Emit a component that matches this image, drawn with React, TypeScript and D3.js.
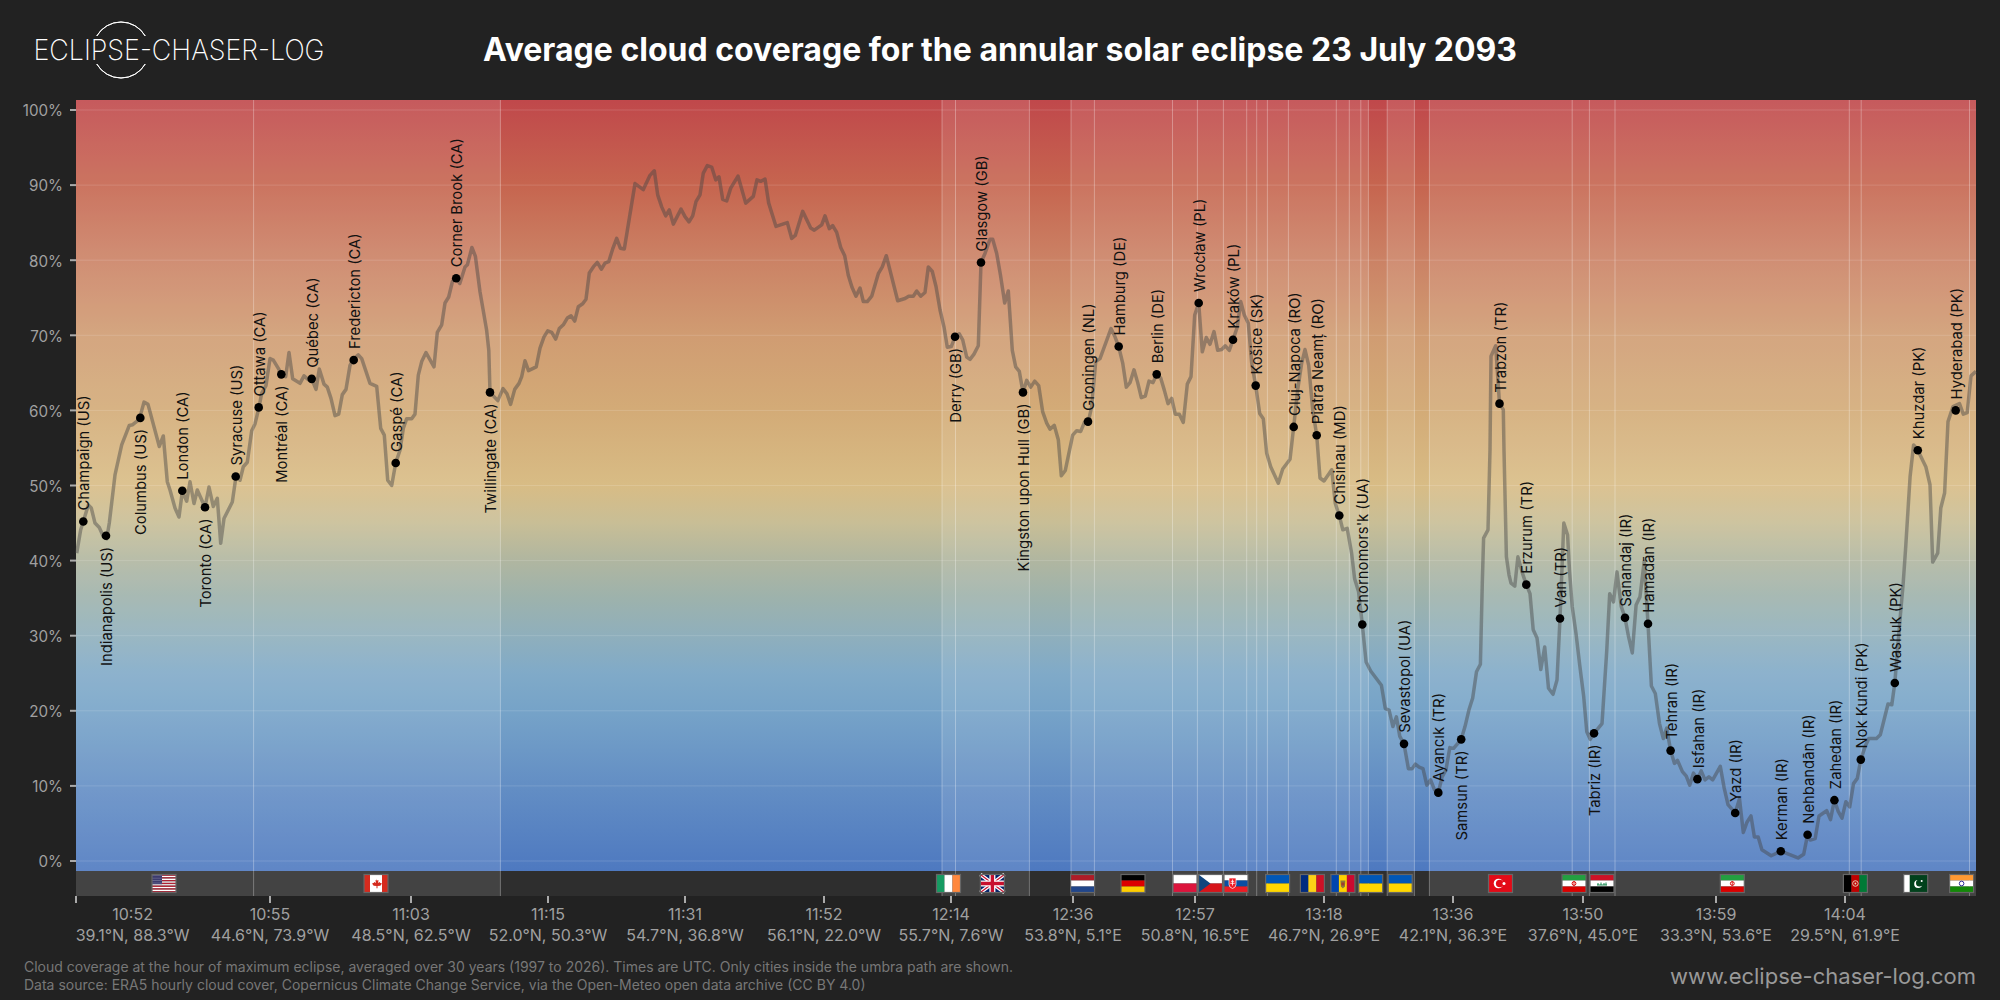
import * as d3 from "d3"

// Track position is a running index along the umbra path, [position, average cloud %]
const trackNorthAmerica = [
  [0.7, 41.0], [4.7, 44.1], [7.3, 45.2], [12.3, 47.4], [15.3, 47.0], [19, 45.0], [23.3, 44.4], [27.3, 43.2], [30.7, 42.9], [33.3, 45.0],
  [39, 51.4], [45.7, 55.4], [53.3, 58.0], [56.7, 58.1], [63.3, 58.8], [68, 61.1], [72, 60.8], [83.3, 55.2], [87.3, 56.6], [91.3, 50.5],
  [94, 49.4], [99, 47.0], [103, 45.8], [106.3, 49.2], [110.7, 47.9], [114, 50.5], [118, 47.6], [121.3, 49.4], [129, 47.1], [133, 49.8],
  [137.3, 47.2], [141.3, 48.3], [144.7, 42.3], [148, 45.6], [156.3, 47.8], [160, 51.2], [164, 50.7], [167.3, 52.5], [171.3, 53.1], [175.7, 57.3],
  [179, 58.2], [183, 60.4], [185.7, 62.3], [190, 63.3], [194, 66.9], [197.3, 66.7], [202.3, 65.6], [205.7, 64.8], [209.7, 64.5], [213, 67.7],
  [216.7, 64.2], [224, 63.6], [228, 64.6], [232.3, 64.1], [235.7, 64.2], [240, 62.8], [243.3, 65.5], [248, 63.5], [251.3, 63.1], [255, 61.6],
  [259, 59.3], [262.7, 59.5], [266.3, 62.1], [270, 62.8], [274, 66.0], [277.3, 66.8], [282.3, 67.4], [285.7, 66.9], [294, 63.6], [300.7, 63.2],
  [304.7, 57.6], [308.3, 56.7], [311.7, 50.7], [315.7, 50.0], [319.7, 53.0], [324, 54.7], [327.3, 57.6], [330.7, 58.9], [335.7, 58.9], [339, 59.5],
  [342.3, 64.7], [345.7, 66.5], [350, 67.7], [358, 65.8], [361.3, 70.4], [365.7, 71.4], [369, 74.3], [372.7, 75.1], [376.5, 77.2], [380.2, 77.6], [383.8, 76.9],
  [389, 79.1], [391.4, 79.4], [395.9, 81.7], [399.4, 80.5], [404, 75.8], [410.6, 70.7], [412.8, 68.0], [414, 62.4],
]

const trackAtlantic = [
  [421.8, 61.3], [427, 62.9], [431, 62.2], [434.6, 60.8], [438.7, 62.8], [443, 63.6], [445.7, 64.5], [449, 66.6], [452.5, 65.3], [460.2, 65.8],
  [464, 68.3], [468, 69.8], [471.7, 70.6], [475.7, 70.4], [479.7, 69.5], [483.3, 70.9], [487.3, 71.4], [491.3, 72.3], [495, 72.6], [498.7, 71.9],
  [502.3, 73.8], [506.7, 74.2], [510, 74.8], [513.3, 78.3], [517.3, 79.1], [521.3, 79.7], [525.3, 78.8], [529, 79.6], [532.7, 79.8], [536.7, 81.5],
  [540.7, 82.9], [544.3, 81.6], [548.3, 81.5], [559, 90.2], [567.3, 89.4], [574, 91.3], [578.3, 91.9], [581.7, 88.7], [585.7, 87.1], [589.7, 85.9],
  [593.3, 86.7], [597.3, 84.8], [605, 86.8], [609, 85.8], [613, 85.1], [616.7, 85.9], [620, 87.8], [624, 88.7], [627.3, 91.6], [631.3, 92.6],
  [635.7, 92.4], [639.7, 90.7], [643, 91.1], [646.7, 88.1], [650.7, 87.9], [654.7, 89.6], [662, 91.2], [669.7, 87.6], [677.3, 88.5], [681, 90.7],
  [684.7, 90.5], [689, 90.8], [692.7, 87.6], [700, 84.5], [711.3, 85.0], [715.7, 82.9], [719.3, 83.3], [726.7, 86.5], [734.7, 84.3], [738.3, 84.0],
  [745.7, 84.7], [749, 85.9], [753.3, 84.2], [756.7, 84.6], [760.7, 83.7], [764.7, 81.7], [768.7, 80.6], [772.3, 78.0], [776, 76.4], [780, 75.2],
  [784, 76.3], [787.3, 74.5], [791.3, 74.5], [795.7, 75.2], [802.3, 78.2], [806.3, 79.1], [810.3, 80.6], [821.7, 74.6], [829, 74.9], [832.7, 75.2],
  [837.3, 75.2], [840.7, 75.9], [844.7, 75.2], [849, 75.7], [852.3, 79.1], [856.3, 78.5], [860, 76.5], [864, 73.4], [868, 71.1], [871.3, 68.4],
]

const trackEurope = [
  [875.3, 68.5], [879, 69.8], [883.3, 70.2], [886.7, 69.4], [890.7, 67.1], [894, 66.8], [898, 67.5], [902.3, 68.6], [905, 79.7], [909, 80.9],
  [914, 82.8], [916.7, 82.8], [920.7, 80.9], [924.5, 78.0], [928.7, 74.3], [932.3, 75.9], [936.3, 68.0], [939.7, 65.8], [943.3, 65.2], [947, 62.4],
  [950.7, 64.0], [954.7, 63.1], [958.7, 63.9], [962.7, 63.3], [966.7, 59.8], [970.7, 58.3], [974, 57.5], [978.3, 58.0], [982.3, 56.1], [985.3, 51.3],
  [989.3, 52.0], [996.7, 56.7], [1000.7, 57.3], [1004.7, 57.2], [1008.7, 58.5], [1012.3, 58.5], [1015.7, 60.5], [1019.7, 66.5], [1024, 66.9], [1035, 70.9],
  [1039, 69.8], [1042.7, 68.5], [1046.7, 66.3], [1050.3, 63.1], [1054, 63.7], [1058, 65.4], [1061.7, 63.7], [1065.3, 61.7], [1069.3, 61.9], [1073, 63.9],
  [1077, 63.7], [1080.7, 64.8], [1084.7, 64.3], [1088.3, 62.7], [1092, 60.9], [1095.7, 61.6], [1099.3, 59.5], [1103.3, 59.5], [1107.3, 58.4], [1111.3, 63.5],
  [1115, 64.5], [1118.7, 72.7], [1122.7, 74.3], [1126.3, 67.8], [1130.3, 69.7], [1134, 68.8], [1138, 70.5], [1141.7, 68.0], [1145.7, 68.1], [1149.3, 68.6],
  [1153.3, 68.0], [1157, 69.4], [1161.3, 71.1], [1164.7, 74.5], [1168.3, 72.7], [1172.3, 71.6], [1175.7, 66.3], [1179.7, 63.3], [1183.7, 59.6], [1187.3, 58.9],
  [1190.7, 54.3], [1194.7, 52.5], [1202.3, 50.3], [1206.7, 52.2], [1214, 53.5], [1217.7, 57.8], [1221.7, 62.8], [1225.7, 66.3], [1229, 68.1], [1232.7, 66.0],
  [1236.7, 60.1], [1240.7, 56.7], [1244, 51.0], [1248, 50.6], [1255.7, 52.1], [1259.3, 47.6], [1263.3, 46.0], [1266.8, 44.1], [1271.2, 44.3], [1275.6, 41.0],
  [1278.6, 37.6], [1282.5, 35.9], [1286.3, 31.5], [1290.1, 26.5], [1294.7, 25.3], [1305.4, 23.4], [1309.3, 20.3], [1313.1, 20.1], [1316.9, 17.9], [1320.4, 19.2],
  [1323.8, 16.6], [1328, 15.6],
]

const trackAsia = [
  [1332.4, 12.3], [1336.2, 12.3], [1339.3, 12.9], [1343.1, 12.5], [1347, 12.3], [1350.8, 10.1], [1354.6, 10.8], [1358.4, 9.5], [1362.3, 9.1], [1366.1, 11.2],
  [1369.9, 12.1], [1373.8, 15.1], [1377.6, 15.0], [1385.2, 16.2], [1389, 17.9], [1392.9, 20.1], [1396.7, 21.7], [1400.5, 25.2], [1404.4, 26.2], [1406.3, 37.0],
  [1407.6, 43.0], [1412, 44.1], [1414, 54.7], [1415, 67.2], [1419.7, 68.6], [1423.5, 60.9], [1427.3, 60.1], [1428, 54.7], [1430.4, 40.5], [1433, 38.1],
  [1435, 37.0], [1438.8, 36.6], [1441.9, 40.5], [1446.5, 38.3], [1450.3, 36.8], [1454, 35.6], [1457.2, 30.8], [1461, 29.7], [1464.8, 25.5], [1468.7, 28.5],
  [1472.5, 23.0], [1477, 22.2], [1481, 24.1], [1484, 32.3], [1487.8, 45.0], [1491.6, 43.4], [1493.5, 38.7], [1496.2, 33.9], [1500, 30.3], [1503.9, 25.9],
  [1507.7, 21.9], [1510.8, 17.2], [1514.2, 16.2], [1518, 17.0], [1526, 18.3], [1530.7, 27.9], [1533.7, 35.6], [1537.5, 34.5], [1541, 38.5], [1545.2, 33.9],
  [1549, 32.4], [1552.5, 29.9], [1556.3, 27.7], [1560.1, 34.1], [1564, 35.2], [1568.2, 39.9], [1572, 31.6], [1575.4, 23.3], [1579.3, 22.3], [1583.5, 18.3],
  [1587.3, 16.3], [1590.7, 17.7], [1594.6, 14.7], [1598.4, 13.0], [1601.5, 13.4], [1606.4, 11.9], [1610.3, 11.3], [1613.7, 10.1], [1617.5, 11.7], [1621.4, 10.9],
  [1625.2, 12.0], [1629, 10.8], [1632.9, 11.2], [1636.7, 10.8], [1640.5, 11.7], [1644.3, 12.6], [1648.2, 9.7], [1652, 7.5], [1659.2, 6.4], [1663.5, 8.3],
  [1667.3, 3.8], [1671.1, 5.2], [1675, 6.0], [1678.4, 3.2], [1682.2, 3.2], [1685.9, 1.5], [1695.2, 0.7], [1704.8, 1.3], [1714.4, 0.8], [1722, 0.4],
  [1727.7, 0.9], [1731.6, 3.5], [1734.2, 2.8], [1739.2, 3.0], [1743, 6.0], [1750.7, 6.7], [1754.5, 5.5], [1758.4, 8.1], [1762.2, 6.6], [1766, 5.7],
  [1769.9, 7.9], [1773.7, 7.2], [1777.5, 10.3], [1781.3, 11.0], [1784.8, 13.5], [1789, 15.2], [1792.8, 16.3], [1800.5, 16.3], [1804.3, 16.8], [1812, 20.9],
  [1815.8, 20.8], [1818.8, 23.7], [1823.4, 31.2], [1827.2, 37.0], [1829.5, 41.4], [1834.1, 51.2], [1837.6, 55.4], [1841.8, 54.7], [1849.8, 52.5], [1854, 50.1],
  [1856.7, 39.8], [1861.7, 41.0], [1864.8, 47.0], [1868.6, 49.0], [1872, 58.5], [1877, 60.5], [1883.5, 60.9], [1887.3, 59.5], [1891.2, 59.7], [1895, 64.6],
  [1900, 65.2],
]

// name, track position, cloud %, label side
const cities: [string, number, number, "up" | "down"][] = [
  ["Champaign (US)", 7.3, 45.2, "up"], ["Indianapolis (US)", 30, 43.3, "down"], ["Columbus (US)", 64.3, 59.0, "down"],
  ["London (CA)", 106.3, 49.3, "up"], ["Toronto (CA)", 129, 47.1, "down"], ["Syracuse (US)", 159.7, 51.2, "up"],
  ["Ottawa (CA)", 182.7, 60.4, "up"], ["Montréal (CA)", 205.3, 64.8, "down"], ["Québec (CA)", 235.7, 64.2, "up"],
  ["Fredericton (CA)", 277.7, 66.7, "up"], ["Gaspé (CA)", 319.7, 53.0, "up"], ["Corner Brook (CA)", 380.2, 77.6, "up"],
  ["Twillingate (CA)", 414, 62.4, "down"], ["Derry (GB)", 879, 69.8, "down"], ["Glasgow (GB)", 905, 79.7, "up"],
  ["Kingston upon Hull (GB)", 947, 62.4, "down"], ["Groningen (NL)", 1012, 58.5, "up"], ["Hamburg (DE)", 1042.7, 68.5, "up"],
  ["Berlin (DE)", 1080.7, 64.8, "up"], ["Wrocław (PL)", 1122.7, 74.3, "up"], ["Kraków (PL)", 1157, 69.4, "up"],
  ["Košice (SK)", 1179.7, 63.3, "up"], ["Cluj-Napoca (RO)", 1217.7, 57.8, "up"], ["Piatra Neamț (RO)", 1240.7, 56.7, "up"],
  ["Chisinau (MD)", 1263.3, 46.0, "up"], ["Chornomors'k (UA)", 1286.3, 31.5, "up"], ["Sevastopol (UA)", 1328, 15.6, "up"],
  ["Ayancık (TR)", 1362.3, 9.1, "up"], ["Samsun (TR)", 1385.2, 16.2, "down"], ["Trabzon (TR)", 1423.5, 60.9, "up"],
  ["Erzurum (TR)", 1450.3, 36.8, "up"], ["Van (TR)", 1484, 32.3, "up"], ["Tabriz (IR)", 1518, 17.0, "down"],
  ["Sanandaj (IR)", 1549, 32.4, "up"], ["Hamadān (IR)", 1572, 31.6, "up"], ["Tehran (IR)", 1594.6, 14.7, "up"],
  ["Isfahan (IR)", 1621.4, 10.9, "up"], ["Yazd (IR)", 1659.2, 6.4, "up"], ["Kerman (IR)", 1704.8, 1.3, "up"],
  ["Nehbandān (IR)", 1731.6, 3.5, "up"], ["Zahedan (IR)", 1758.4, 8.1, "up"], ["Nok Kundi (PK)", 1784.8, 13.5, "up"],
  ["Washuk (PK)", 1818.8, 23.7, "up"], ["Khuzdar (PK)", 1841.8, 54.7, "up"], ["Hyderabad (PK)", 1879.7, 60.0, "up"],
]

// stretches of the path over land, with the border crossings inside them
const landStretches = [
  [0, 177.6, 424.4],
  [866, 879.5, 953.4],
  [995, 1018.4, 1096.5, 1121.4, 1147.4, 1170.7, 1180.7, 1191.4, 1212.4, 1260.3, 1273.3, 1284.8, 1292.4],
  [1311.2, 1338.4],
  [1353.4, 1496.2, 1513.4, 1539, 1773.3, 1785.2, 1893.5, 1900],
]

const flags: [string, number][] = [
  ["us", 88], ["ca", 300], ["ie", 872.5], ["gb", 916.4], ["nl", 1006.6], ["de", 1057], ["pl", 1109], ["cz", 1134.5], ["sk", 1160],
  ["ua", 1201.6], ["ro", 1236.4], ["md", 1266.9], ["ua", 1294.7], ["ua", 1324.2], ["tr", 1424.5], ["ir", 1498], ["iq", 1526],
  ["ir", 1656.3], ["af", 1779.4], ["pk", 1839.7], ["in", 1885.6],
]

const tickPositions = [0, 194, 335, 472, 609, 748, 875, 997, 1119, 1248, 1377, 1507, 1640, 1769]
const tickTimes = ["10:52", "10:55", "11:03", "11:15", "11:31", "11:52", "12:14", "12:36", "12:57", "13:18", "13:36", "13:50", "13:59", "14:04"]
const tickCoords = [
  "39.1°N, 88.3°W", "44.6°N, 73.9°W", "48.5°N, 62.5°W", "52.0°N, 50.3°W", "54.7°N, 36.8°W", "56.1°N, 22.0°W", "55.7°N, 7.6°W",
  "53.8°N, 5.1°E", "50.8°N, 16.5°E", "46.7°N, 26.9°E", "42.1°N, 36.3°E", "37.6°N, 45.0°E", "33.3°N, 53.6°E", "29.5°N, 61.9°E",
]
const yTicks = [0, 10, 20, 30, 40, 50, 60, 70, 80, 90, 100]

// value -> colour of the background ramp
const rampStops: [number, string][] = [
  [101.3, "#c0484b"], [90, "#c6654f"], [80, "#cb8265"], [70, "#d09c72"], [60, "#d3ab77"], [50, "#d8bc85"], [45, "#c8be96"],
  [40, "#b0b6a0"], [35, "#9db2ac"], [30, "#8fafbc"], [25, "#80aac8"], [20, "#76a3c8"], [10, "#638ec4"], [-1.3, "#4e79c0"],
]

const FONT = "Inter, 'Noto Sans', sans-serif"
const x = d3.scaleLinear().domain([0, 1900]).range([76, 1976])
const y = d3.scaleLinear().domain([0, 100]).range([861, 110])
const PLOT_TOP = 100
const PLOT_BOTTOM = 871
const BAND_BOTTOM = 896

const track = [...trackNorthAmerica, ...trackAtlantic, ...trackEurope, ...trackAsia]
const linePath = d3
  .line<number[]>()
  .x((d) => x(d[0]))
  .y((d) => y(d[1]))(track) as string

const logoArc = d3.arc()

function Flag({ code, cx }: { code: string; cx: number }) {
  const W = 24
  const H = 18
  const hStripes = (cols: string[]) =>
    cols.map((c, i) => <rect key={i} x={0} y={(i * H) / cols.length} width={W} height={H / cols.length} fill={c} />)
  const vStripes = (cols: string[]) =>
    cols.map((c, i) => <rect key={i} x={(i * W) / cols.length} y={0} width={W / cols.length} height={H} fill={c} />)
  let body: React.ReactNode = null
  if (code === "us") {
    const stripes = d3.range(13).map((i) => (i % 2 ? "#ffffff" : "#b22234"))
    body = (
      <>
        {hStripes(stripes)}
        <rect width={10} height={9.7} fill="#3c3b6e" />
        {d3.range(4).map((r) => d3.range(5).map((c) => <circle key={`${r}${c}`} cx={1 + c * 2} cy={1.2 + r * 2.4} r={0.4} fill="#fff" />))}
      </>
    )
  } else if (code === "ca") {
    body = (
      <>
        {vStripes(["#d52b1e", "#ffffff", "#ffffff", "#d52b1e"])}
        <path d="M12 4l1.2 2 1.3-.6-.4 3 1.6-1 .6 1.2 1.4-.2-.6 2-1 .8-2.6.2v2.4h-1V11.400l-2.600-.2-1-.8-.6-2 1.400.2.6-1.200 1.600 1-.4-3 1.300.6z" fill="#d52b1e" />
      </>
    )
  } else if (code === "ie") body = vStripes(["#169b62", "#ffffff", "#ff883e"])
  else if (code === "gb") {
    body = (
      <>
        <rect width={W} height={H} fill="#012169" />
        <path d="M0 0L24 18M24 0L0 18" stroke="#fff" strokeWidth={3.6} />
        <path d="M0 0L24 18M24 0L0 18" stroke="#c8102e" strokeWidth={1.2} />
        <path d="M12 0V18M0 9H24" stroke="#fff" strokeWidth={6} />
        <path d="M12 0V18M0 9H24" stroke="#c8102e" strokeWidth={3.4} />
      </>
    )
  } else if (code === "nl") body = hStripes(["#ae1c28", "#ffffff", "#21468b"])
  else if (code === "de") body = hStripes(["#000000", "#dd0000", "#ffce00"])
  else if (code === "pl") body = hStripes(["#ffffff", "#dc143c"])
  else if (code === "cz") {
    body = (
      <>
        {hStripes(["#ffffff", "#d7141a"])}
        <path d="M0 0L12 9L0 18Z" fill="#11457e" />
      </>
    )
  } else if (code === "sk") {
    body = (
      <>
        {hStripes(["#ffffff", "#0b4ea2", "#ee1c25"])}
        <path d="M5 3.500h7v6.500q0 3-3.500 4q-3.500-1-3.500-4z" fill="#ee1c25" stroke="#fff" strokeWidth={0.7} />
        <path d="M8.500 5v6M6.800 6.800h3.400M6.300 8.800h4.400" stroke="#fff" strokeWidth={0.8} />
      </>
    )
  } else if (code === "ua") body = hStripes(["#0057b7", "#ffd700"])
  else if (code === "ro") body = vStripes(["#002b7f", "#fcd116", "#ce1126"])
  else if (code === "md") {
    body = (
      <>
        {vStripes(["#0046ae", "#ffd200", "#cc092f"])}
        <path d="M9.500 6h5l-.5 6-2 2-2-2z" fill="#8a7a3a" />
        <rect x={10.500} y={8} width={3} height={3} fill="#a33a2c" />
      </>
    )
  } else if (code === "tr") {
    body = (
      <>
        <rect width={W} height={H} fill="#e30a17" />
        <circle cx={10} cy={9} r={4.800} fill="#fff" />
        <circle cx={11.200} cy={9} r={3.800} fill="#e30a17" />
        <circle cx={15.500} cy={9} r={1.500} fill="#fff" />
      </>
    )
  } else if (code === "ir") {
    body = (
      <>
        {hStripes(["#239f40", "#ffffff", "#da0000"])}
        <circle cx={12} cy={9} r={1.900} fill="none" stroke="#da0000" strokeWidth={1} />
        <path d="M12 6.800V11.200" stroke="#da0000" strokeWidth={0.8} />
      </>
    )
  } else if (code === "iq") {
    body = (
      <>
        {hStripes(["#ce1126", "#ffffff", "#000000"])}
        <path d="M7 10.500h10M8 8.500v2M11 8v2.500M14 8.500v2M16 8v2.500" stroke="#007a3d" strokeWidth={0.9} />
      </>
    )
  } else if (code === "af") {
    body = (
      <>
        {vStripes(["#000000", "#be0000", "#007a36"])}
        <circle cx={12} cy={9} r={2.800} fill="none" stroke="#e8d9c0" strokeWidth={0.9} />
        <circle cx={12} cy={9} r={0.900} fill="#e8d9c0" />
      </>
    )
  } else if (code === "pk") {
    body = (
      <>
        <rect width={W} height={H} fill="#01411c" />
        <rect width={6} height={H} fill="#fff" />
        <circle cx={14.500} cy={9.500} r={4} fill="#fff" />
        <circle cx={15.800} cy={8.500} r={3.500} fill="#01411c" />
        <circle cx={18} cy={6.500} r={1} fill="#fff" />
      </>
    )
  } else if (code === "in") {
    body = (
      <>
        {hStripes(["#ff9933", "#ffffff", "#138808"])}
        <circle cx={12} cy={9} r={2.300} fill="none" stroke="#000080" strokeWidth={0.8} />
      </>
    )
  }
  return (
    <g transform={`translate(${cx - W / 2},874.500)`}>
      {body}
      <rect width={W} height={H} fill="none" stroke="#666" strokeWidth={1.200} />
    </g>
  )
}

export default function App() {
  return (
    <svg width={2000} height={1000} style={{ position: "absolute", left: 0, top: 0, fontFamily: FONT }}>
      <defs>
        <linearGradient id="ramp" gradientUnits="userSpaceOnUse" x1={0} x2={0} y1={y(101.3)} y2={y(-1.3)}>
          {rampStops.map(([v, c]) => (
            <stop key={v} offset={(101.3 - v) / 102.6} stopColor={c} />
          ))}
        </linearGradient>
      </defs>
      <rect width={2000} height={1000} fill="#222222" />

      {/* header */}
      <text x={33.500} y={60} fontSize={28} fontWeight={200} fill="#fff" textLength={291} lengthAdjust="spacingAndGlyphs">ECLIPSE-CHASER-LOG</text>
      <g transform="translate(121,50)" fill="none" stroke="#fff" strokeWidth={1}>
        <path d={logoArc({ innerRadius: 28, outerRadius: 28, startAngle: -Math.PI / 3, endAngle: Math.PI / 3 }) as string} />
        <path d={logoArc({ innerRadius: 28, outerRadius: 28, startAngle: (2 * Math.PI) / 3, endAngle: (4 * Math.PI) / 3 }) as string} />
      </g>
      <text x={1000} y={61} textAnchor="middle" fontSize={32} fontWeight={700} fill="#fff">Average cloud coverage for the annular solar eclipse 23 July 2093</text>

      {/* plot background */}
      <rect x={76} y={PLOT_TOP} width={1900} height={PLOT_BOTTOM - PLOT_TOP} fill="url(#ramp)" />
      <rect x={76} y={PLOT_BOTTOM} width={1900} height={BAND_BOTTOM - PLOT_BOTTOM} fill="#2e2e2e" />
      {landStretches.map((s, i) => (
        <rect key={i} x={x(s[0])} y={PLOT_TOP} width={x(s[s.length - 1]) - x(s[0])} height={BAND_BOTTOM - PLOT_TOP} fill="#fff" fillOpacity={0.1} />
      ))}

      {/* grid */}
      {yTicks.map((v) => (
        <g key={v}>
          <line x1={76} x2={1976} y1={y(v)} y2={y(v)} stroke="#fff" strokeOpacity={0.14} />
          <line x1={70} x2={76} y1={y(v)} y2={y(v)} stroke="#aaa" strokeWidth={2} />
          <text x={63} y={y(v) + 1} dy="0.35em" textAnchor="end" fontSize={15.200} fill="#a0a0a0">{v}%</text>
        </g>
      ))}
      {landStretches.flat().filter((p) => p > 0 && p < 1900).map((p) => (
        <line key={p} x1={x(p)} x2={x(p)} y1={PLOT_TOP} y2={BAND_BOTTOM} stroke="#fff" strokeOpacity={0.3} />
      ))}

      {flags.map(([code, p], i) => (
        <Flag key={i} code={code} cx={x(p)} />
      ))}

      {/* series */}
      <path d={linePath} fill="none" stroke="#444" strokeOpacity={0.45} strokeWidth={3.500} strokeLinejoin="round" />
      {cities.map(([name, p, v, side]) => (
        <g key={name}>
          <circle cx={x(p)} cy={y(v)} r={4.300} fill="#000" />
          <text
            transform={`translate(${x(p) + 1},${y(v) + (side === "up" ? -11 : 11)}) rotate(-90)`}
            textAnchor={side === "up" ? "start" : "end"}
            dy="0.35em"
            fontSize={14.800}
            fill="#111"
          >
            {name}
          </text>
        </g>
      ))}

      {/* x axis */}
      {tickPositions.map((p, i) => {
        const tx = x(p)
        const anchored = i === 0
        return (
          <g key={p}>
            <line x1={tx} x2={tx} y1={BAND_BOTTOM} y2={903} stroke="#aaa" strokeWidth={2} />
            <text x={anchored ? tx + 56.600 : tx} y={914} dy="0.35em" textAnchor="middle" fontSize={16} fill="#a0a0a0">{tickTimes[i]}</text>
            <text x={anchored ? tx + 56.600 : tx} y={935} dy="0.35em" textAnchor="middle" fontSize={16} fill="#a0a0a0">{tickCoords[i]}</text>
          </g>
        )
      })}

      {/* footer */}
      <text x={24} y={967} dy="0.35em" fontSize={14} fill="#777">Cloud coverage at the hour of maximum eclipse, averaged over 30 years (1997 to 2026). Times are UTC. Only cities inside the umbra path are shown.</text>
      <text x={24} y={985} dy="0.35em" fontSize={14} fill="#777">Data source: ERA5 hourly cloud cover, Copernicus Climate Change Service, via the Open-Meteo open data archive (CC BY 4.0)</text>
      <text x={1976} y={976} dy="0.35em" textAnchor="end" fontSize={22} fill="#999">www.eclipse-chaser-log.com</text>
    </svg>
  )
}
